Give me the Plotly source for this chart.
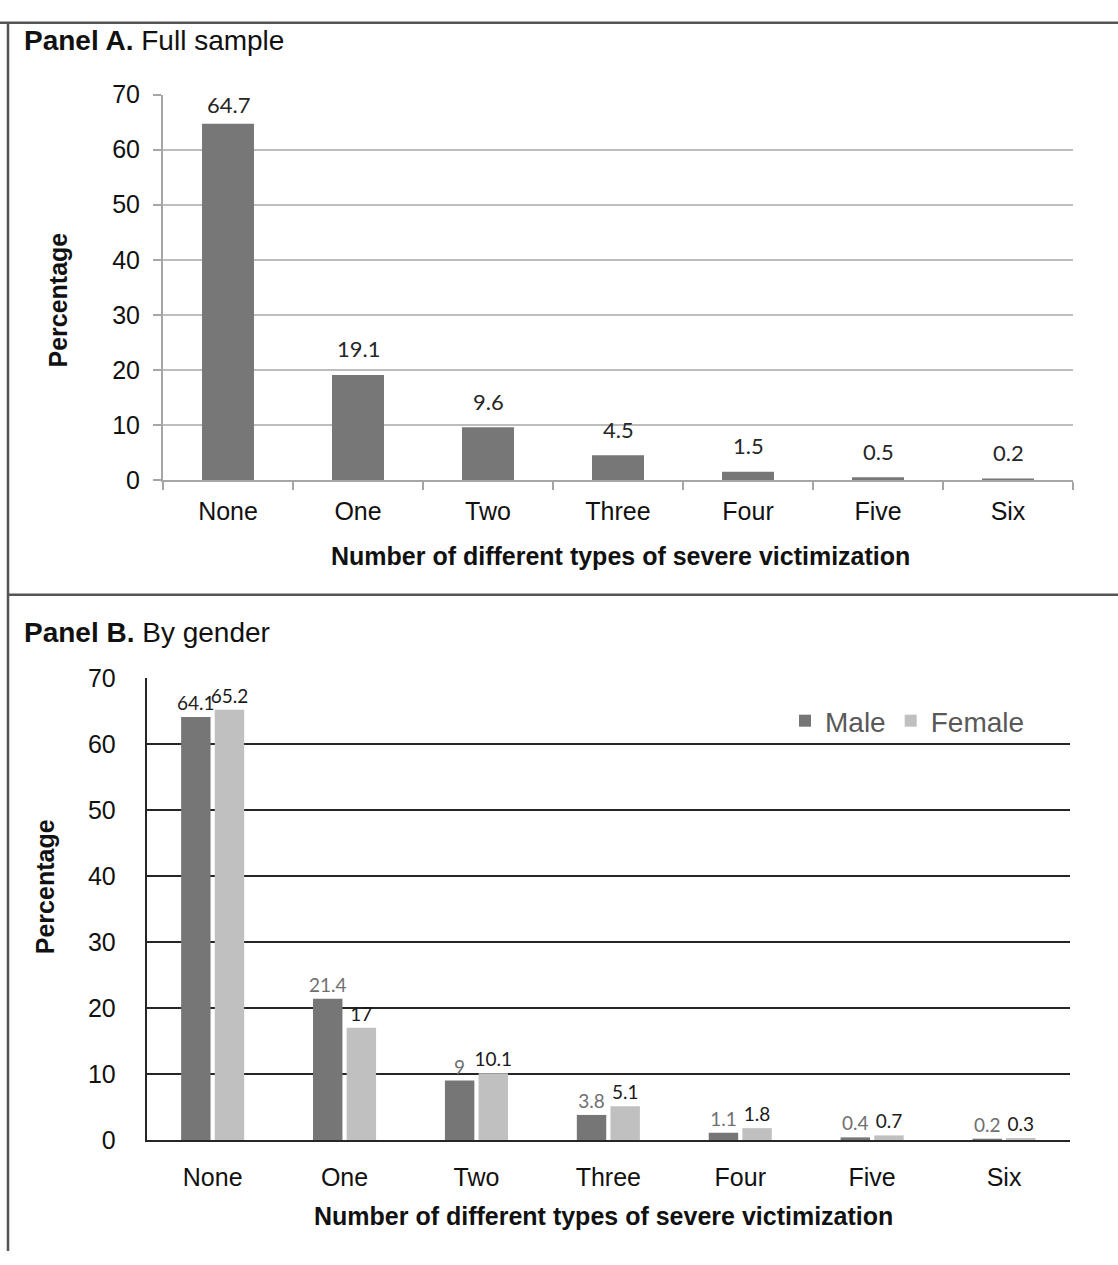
import plotly.graph_objects as go

categories = ["None", "One", "Two", "Three", "Four", "Five", "Six"]
full_sample = [64.7, 19.1, 9.6, 4.5, 1.5, 0.5, 0.2]
male = [64.1, 21.4, 9, 3.8, 1.1, 0.4, 0.2]
female = [65.2, 17, 10.1, 5.1, 1.8, 0.7, 0.3]
male_labels = ["64.1", "21.4", "9", "3.8", "1.1", "0.4", "0.2"]
female_labels = ["65.2", "17", "10.1", "5.1", "1.8", "0.7", "0.3"]
y_ticks = [0, 10, 20, 30, 40, 50, 60, 70]

W, H = 1118, 1265
AX = "Liberation Sans, Arial, sans-serif"
LAB = "Lato, Carlito, sans-serif"

def px_x(p):
    return p / W

def px_y(p):
    return 1 - p / H

fig = go.Figure()

fig.add_trace(go.Bar(
    x=categories, y=full_sample, xaxis="x", yaxis="y",
    marker=dict(color="#777777", line=dict(width=0)),
    showlegend=False, hoverinfo="x+y", width=0.4,
))

fig.add_trace(go.Bar(
    x=categories, y=male, xaxis="x2", yaxis="y2", name="Male",
    marker=dict(color="#767676", line=dict(width=0)),
    text=male_labels, textposition="outside", cliponaxis=False, constraintext="none",
    textfont=dict(family=LAB, size=19,
                  color=["#222222"] + ["#707070"] * (len(male) - 1)),
))
fig.add_trace(go.Bar(
    x=categories, y=female, xaxis="x2", yaxis="y2", name="Female",
    marker=dict(color="#c0c0c0", line=dict(width=0)),
    text=female_labels, textposition="outside", cliponaxis=False, constraintext="none",
    textfont=dict(family=LAB, size=19, color="#1a1a1a"),
))

annotations = []
for c, v in zip(categories, full_sample):
    annotations.append(dict(
        x=c, y=v, xref="x", yref="y", text=f"{v}", showarrow=False,
        yanchor="middle", yshift=19 if v > 60 else 26,
        font=dict(family=LAB, size=22, color="#262626"),
    ))

annotations.append(dict(
    x=px_x(22), y=px_y(27), xref="paper", yref="paper", xanchor="left", yanchor="middle",
    text="<b>Panel A.</b> Full sample", showarrow=False,
    font=dict(family=AX, size=28, color="#111111"),
))
annotations.append(dict(
    x=px_x(22), y=px_y(633), xref="paper", yref="paper", xanchor="left", yanchor="middle",
    text="<b>Panel B.</b> By gender", showarrow=False,
    font=dict(family=AX, size=28, color="#111111"),
))
annotations.append(dict(
    x=px_x(620), y=px_y(554), xref="paper", yref="paper", xanchor="center", yanchor="middle",
    text="<b>Number of different types of severe victimization</b>", showarrow=False,
    font=dict(family=AX, size=25, color="#111111"),
))
annotations.append(dict(
    x=px_x(603), y=px_y(1229), xref="paper", yref="paper", xanchor="center", yanchor="middle",
    text="<b>Number of different types of severe victimization</b>", showarrow=False,
    font=dict(family=AX, size=25, color="#111111"),
))
annotations.append(dict(
    x=px_x(58), y=px_y(293), xref="paper", yref="paper", xanchor="center", yanchor="middle",
    text="<b>Percentage</b>", showarrow=False, textangle=-90,
    font=dict(family=AX, size=25, color="#111111"),
))
annotations.append(dict(
    x=px_x(45), y=px_y(893), xref="paper", yref="paper", xanchor="center", yanchor="middle",
    text="<b>Percentage</b>", showarrow=False, textangle=-90,
    font=dict(family=AX, size=25, color="#111111"),
))

shapes = [
    dict(type="line", xref="paper", yref="paper", x0=0, x1=1, y0=px_y(9), y1=px_y(9),
         line=dict(color="#555555", width=2.5)),
    dict(type="line", xref="paper", yref="paper", x0=px_x(8), x1=px_x(8), y0=0, y1=px_y(9),
         line=dict(color="#555555", width=2.5)),
    dict(type="line", xref="paper", yref="paper", x0=px_x(8), x1=1, y0=px_y(594), y1=px_y(594),
         line=dict(color="#555555", width=2.5)),
]

fig.update_layout(
    width=W, height=H,
    margin=dict(l=0, r=0, t=0, b=0),
    paper_bgcolor="white", plot_bgcolor="white",
    barmode="group",
    bargap=0.49, bargroupgap=0.125,
    font=dict(family=AX, size=25, color="#111111"),
    annotations=annotations, shapes=shapes,
    legend=dict(
        orientation="h", x=px_x(1030), xanchor="right", y=px_y(723), yanchor="middle",
        font=dict(family=AX, size=28, color="#595959"), bgcolor="rgba(0,0,0,0)",
        itemwidth=30,
    ),
    xaxis=dict(
        domain=[px_x(163), px_x(1073)], anchor="y",
        showline=True, linecolor="#a6a6a6", linewidth=2,
        ticks="outside", tickson="boundaries", ticklen=8, tickcolor="#a6a6a6", tickwidth=2,
        showgrid=False, tickfont=dict(family=AX, size=25, color="#111111"),
        ticklabelstandoff=8,
    ),
    yaxis=dict(
        domain=[px_y(476.6), px_y(82.4)], anchor="x",
        range=[0, 70], tickvals=y_ticks,
        showline=True, linecolor="#a6a6a6", linewidth=2,
        ticks="outside", ticklen=8, tickcolor="#a6a6a6", tickwidth=2,
        showgrid=True, gridcolor="#bdbdbd", gridwidth=2, zeroline=False,
        tickfont=dict(family=AX, size=25, color="#111111"),
        ticklabelstandoff=8,
    ),
    xaxis2=dict(
        domain=[px_x(146.7), px_x(1070)], anchor="y2",
        showline=True, linecolor="#262626", linewidth=2,
        ticks="", showgrid=False, tickfont=dict(family=AX, size=25, color="#111111"),
        ticklabelstandoff=14,
    ),
    yaxis2=dict(
        domain=[px_y(1151.5), px_y(679)], anchor="x2",
        range=[0, 70], tickvals=y_ticks,
        showline=True, linecolor="#262626", linewidth=2,
        ticks="", showgrid=True, gridcolor="#262626", gridwidth=1.8, zeroline=False,
        tickfont=dict(family=AX, size=25, color="#111111"),
        ticklabelstandoff=24,
    ),
)

post = (
    "document.documentElement.style.margin='0';"
    "document.documentElement.style.overflow='hidden';"
    "document.body.style.margin='0';"
    "document.body.style.overflow='hidden';"
    "var d=document.getElementsByClassName('plotly-graph-div')[0];"
    "d.style.position='fixed';d.style.top='0px';d.style.left='0px';"
    "d.style.width=window.innerWidth+'px';d.style.height=window.innerHeight+'px';"
    "Plotly.relayout(d,{width:window.innerWidth,height:window.innerHeight});"
)

fig.write_html(
    "out.html",
    config={"displayModeBar": False},
    post_script=post,
)
